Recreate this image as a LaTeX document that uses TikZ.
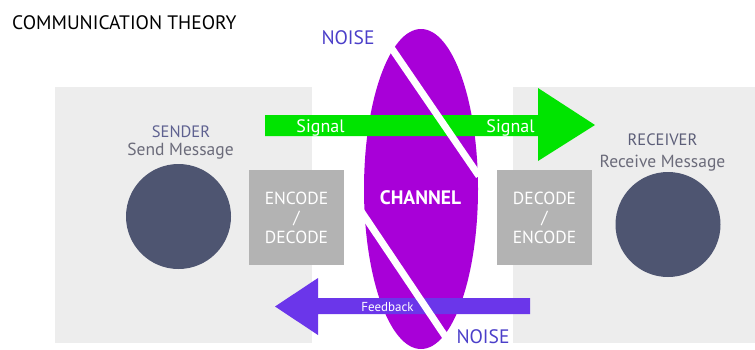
\documentclass[tikz,border=0pt]{standalone}
\usepackage{fontspec}
\setmainfont{PT Sans}
\definecolor{panelgray}{HTML}{EDEDED}
\definecolor{boxgray}{HTML}{B3B3B3}
\definecolor{dotdark}{HTML}{4E5571}
\definecolor{siggreen}{HTML}{00E400}
\definecolor{chanpurple}{HTML}{A800D8}
\definecolor{fbpurple}{HTML}{6B36EA}
\definecolor{noiseblue}{HTML}{4B3FC9}
\definecolor{sendcol}{HTML}{5E6190}
\definecolor{recvcol}{HTML}{5C5E78}
\definecolor{msgcol}{HTML}{6B6B7A}
\tikzset{
  panel/.style={fill=panelgray},
  codebox/.style={fill=boxgray, minimum width=95pt, minimum height=95pt, inner sep=0pt,
    text=white, align=center, font=\fontsize{17.5}{19.5}\selectfont},
  person/.style={circle, fill=dotdark, minimum size=105pt, inner sep=0pt},
  stripe/.style={draw=white, line width=7pt},
  lbl/.style={anchor=base, inner sep=0pt},
}
\begin{document}
\begin{tikzpicture}[x=1pt,y=-1pt]
\useasboundingbox (0,0) rectangle (755,349);
% panels
\fill[panel] (55,87) rectangle (312,343);
\fill[panel] (513,87) rectangle (755,343);
% encode boxes
\node[codebox] (enc) at (296.5,217.5) {ENCODE\\/\\DECODE};
\node[codebox] (dec) at (544.5,217.5) {DECODE\\/\\ENCODE};
% people
\node[person] (snd) at (178.5,216.5) {};
\node[person] (rcv) at (668,224.5) {};
% channel
\fill[chanpurple] (421,189) ellipse [x radius=57pt, y radius=160pt];
% signal arrow
\fill[siggreen] (265,115) -- (538,115) -- (538,88) -- (595,125) -- (538,161) -- (538,136) -- (265,136) -- cycle;
% feedback arrow
\fill[fbpurple] (530,298) -- (318,298) -- (318,278) -- (275,306.5) -- (318,335) -- (318,314) -- (530,314) -- cycle;
% noise stripes
\begin{scope}
  \clip (421,189) ellipse [x radius=58pt, y radius=161pt];
  \draw[stripe] (388,43) -- (479,176);
  \draw[stripe] (361,211) -- (447,339);
\end{scope}
% texts
\node[lbl, anchor=base west, font=\fontsize{19.5}{19.5}\selectfont, text=black] (title) at (12,29) {COMMUNICATION THEORY};
\node[lbl, font=\fontsize{19.5}{19.5}\selectfont, text=noiseblue] (noise1) at (348,44) {NOISE};
\node[lbl, font=\fontsize{19.5}{19.5}\selectfont, text=noiseblue] (noise2) at (483,343.5) {NOISE};
\node[lbl, font=\fontsize{16.5}{16.5}\selectfont, text=sendcol] (sender) at (181,137) {SENDER};
\node[lbl, font=\fontsize{17.5}{17.5}\selectfont, text=msgcol] (sendmsg) at (180.5,155) {Send Message};
\node[lbl, font=\fontsize{16.5}{16.5}\selectfont, text=recvcol] (receiver) at (662.5,145) {RECEIVER};
\node[lbl, font=\fontsize{17.5}{17.5}\selectfont, text=msgcol] (recvmsg) at (662.5,167) {Receive Message};
\node[lbl, font=\fontsize{18}{18}\selectfont, text=white] (sig1) at (320.5,132) {Signal};
\node[lbl, font=\fontsize{18}{18}\selectfont, text=white] (sig2) at (510.5,132) {Signal};
\node[lbl, font=\bfseries\fontsize{19.5}{19.5}\selectfont, text=white] (channel) at (420.5,204) {CHANNEL};
\node[lbl, font=\fontsize{13}{13}\selectfont, text=white] (feedback) at (387.5,311.5) {Feedback};
\end{tikzpicture}
\end{document}
